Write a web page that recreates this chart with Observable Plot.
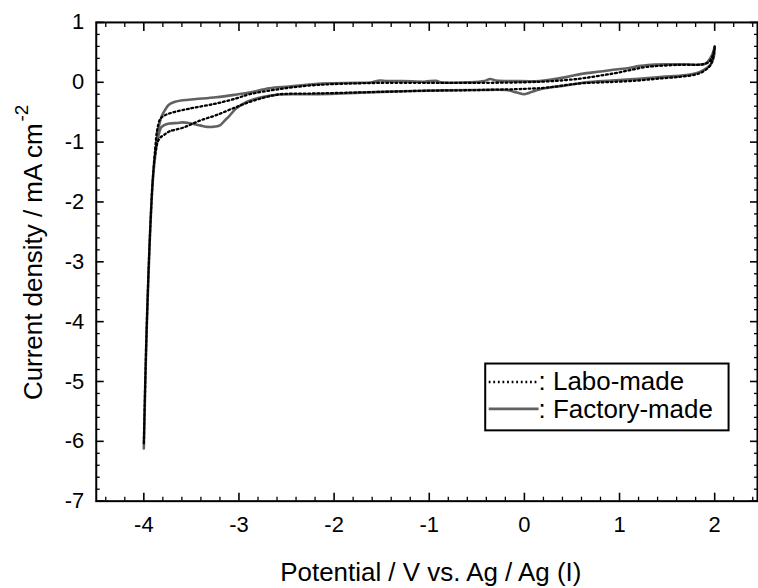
<!DOCTYPE html>
<html>
<head>
<meta charset="utf-8">
<script src="https://cdn.jsdelivr.net/npm/d3@7"></script>
<script src="https://cdn.jsdelivr.net/npm/@observablehq/plot@0.6"></script>
<style>
html, body { margin: 0; padding: 0; background: #fff; overflow: hidden; }
#chart { position: relative; width: 758px; height: 588px; overflow: hidden; }
</style>
</head>
<body>
<div id="chart"></div>
<script>
// ---- data ----
const seriesNames = ["Labo-made", "Factory-made"];

// Labo-made (dotted, black): sweep from +2 V down to -4 V, then back to +2 V
const laboV = [2.0, 1.98, 1.94, 1.87, 1.6, 1.28, 1.1, 0.93, 0.75, 0.58, 0.3, 0.0, -0.5, -1.0, -1.5, -2.0, -2.3, -2.6, -2.89, -3.03, -3.24, -3.52, -3.73, -3.8, -3.83, -3.86, -3.88, -3.905, -3.94, -3.975, -4.0,
  -3.975, -3.94, -3.905, -3.88, -3.84, -3.78, -3.73, -3.59, -3.41, -3.24, -3.07, -2.89, -2.71, -2.57, -2.3, -2.0, -1.5, -1.0, -0.5, 0.0, 0.23, 0.58, 0.92, 1.2, 1.4, 1.63, 1.8, 1.87, 1.93, 1.96, 1.99, 2.0];
const laboJ = [0.6, 0.45, 0.34, 0.3, 0.29, 0.255, 0.2, 0.145, 0.1, 0.06, 0.02, 0.0, -0.01, -0.01, -0.01, -0.03, -0.06, -0.12, -0.2, -0.27, -0.355, -0.44, -0.52, -0.57, -0.62, -0.8, -1.1, -1.6, -2.72, -4.38, -6.05,
  -4.4, -2.72, -1.6, -1.2, -0.95, -0.87, -0.82, -0.76, -0.64, -0.55, -0.44, -0.33, -0.245, -0.2, -0.19, -0.18, -0.16, -0.14, -0.13, -0.11, -0.09, -0.02, 0.005, 0.03, 0.06, 0.09, 0.13, 0.17, 0.24, 0.3, 0.45, 0.6];

// Factory-made (solid, grey)
const factoryV = [2.0, 1.97, 1.9, 1.7, 1.5, 1.3, 1.2, 1.1, 0.93, 0.8, 0.6, 0.45, 0.3, 0.16, -0.1, -0.3, -0.36, -0.42, -0.6, -0.88, -0.93, -1.05, -1.28, -1.45, -1.52, -1.6, -1.75, -2.12, -2.47, -2.68, -2.89, -3.05, -3.24, -3.45, -3.59, -3.68, -3.74, -3.78, -3.81, -3.84, -3.87, -3.905, -3.94, -3.975, -4.0,
  -3.975, -3.94, -3.905, -3.87, -3.845, -3.82, -3.79, -3.73, -3.65, -3.59, -3.5, -3.41, -3.33, -3.275, -3.2, -3.15, -3.1, -3.03, -2.92, -2.75, -2.57, -2.3, -1.98, -1.5, -1.0, -0.5, -0.19, -0.08, 0.0, 0.08, 0.16, 0.3, 0.45, 0.65, 0.92, 1.2, 1.45, 1.7, 1.84, 1.92, 1.96, 1.99, 2.0];
const factoryJ = [0.59, 0.45, 0.31, 0.3, 0.3, 0.29, 0.27, 0.24, 0.21, 0.18, 0.14, 0.09, 0.05, 0.02, 0.02, 0.03, 0.055, 0.02, 0.0, 0.0, 0.025, 0.01, 0.02, 0.02, 0.03, 0.0, -0.01, -0.02, -0.07, -0.1, -0.17, -0.21, -0.25, -0.28, -0.3, -0.33, -0.38, -0.47, -0.56, -0.72, -1.08, -1.63, -2.74, -4.41, -6.12,
  -4.41, -2.74, -1.63, -1.08, -0.88, -0.76, -0.72, -0.69, -0.68, -0.67, -0.69, -0.72, -0.745, -0.745, -0.72, -0.64, -0.56, -0.44, -0.33, -0.245, -0.205, -0.2, -0.19, -0.16, -0.14, -0.13, -0.13, -0.17, -0.2, -0.16, -0.12, -0.08, -0.05, 0.0, 0.03, 0.06, 0.09, 0.12, 0.17, 0.24, 0.3, 0.42, 0.59];

// ticks and labels
const xMajorTicks = [-4, -3, -2, -1, 0, 1, 2];
const yMajorTicks = [-7, -6, -5, -4, -3, -2, -1, 0, 1];
const xMinorTicks = d3.range(-22, 13).map(i => i / 5).filter(v => !Number.isInteger(v));
const yMinorTicks = d3.range(-35, 6).map(i => i / 5).filter(v => !Number.isInteger(v));
const xTitle = "Potential / V vs. Ag / Ag (I)";
const yTitle = "Current density / mA cm";
const yTitleSup = "-2";

// tables built from the arrays
const labo = laboV.map((v, i) => ({v, j: laboJ[i]}));
const factory = factoryV.map((v, i) => ({v, j: factoryJ[i]}));

const FONT = "'Liberation Sans', Arial, Helvetica, sans-serif";
const blank = () => "";
const DOTS = "1.8,2.8";

const svg = Plot.plot({
  width: 760,
  height: 588,
  marginLeft: 96,
  marginRight: 1,
  marginTop: 22,
  marginBottom: 86,
  style: {fontFamily: FONT, fontSize: "22px", color: "#000", background: "#fff"},
  x: {domain: [-4.5, 2.45]},
  y: {domain: [-7, 1]},
  marks: [
    Plot.line(factory, {x: "v", y: "j", stroke: "#616161", strokeWidth: 2.6, curve: "catmull-rom"}),
    Plot.line(labo, {x: "v", y: "j", stroke: "#000", strokeWidth: 2.3, strokeDasharray: DOTS, curve: "catmull-rom"}),
    // minor ticks (inward)
    Plot.axisX(xMinorTicks, {anchor: "bottom", label: null, tickSize: -4, tickFormat: blank, strokeWidth: 1.3}),
    Plot.axisX(xMinorTicks, {anchor: "top", label: null, tickSize: -4, tickFormat: blank, strokeWidth: 1.3}),
    Plot.axisY(yMinorTicks, {anchor: "left", label: null, tickSize: -4, tickFormat: blank, strokeWidth: 1.3}),
    Plot.axisY(yMinorTicks, {anchor: "right", label: null, tickSize: -4, tickFormat: blank, strokeWidth: 1.3}),
    // major ticks (inward) with labels on bottom and left
    Plot.axisX(xMajorTicks, {anchor: "bottom", label: null, tickSize: -8, tickPadding: 23, tickFormat: d => String(d), strokeWidth: 1.6, fontSize: 22}),
    Plot.axisX(xMajorTicks, {anchor: "top", label: null, tickSize: -8, tickFormat: blank, strokeWidth: 1.6}),
    Plot.axisY(yMajorTicks, {anchor: "left", label: null, tickSize: -8, tickPadding: 20, tickFormat: d => String(d), strokeWidth: 1.6, fontSize: 22}),
    Plot.axisY(yMajorTicks, {anchor: "right", label: null, tickSize: -8, tickFormat: blank, strokeWidth: 1.6}),
    Plot.frame({stroke: "#000", strokeWidth: 2})
  ]
});

document.getElementById("chart").appendChild(svg);

const s = d3.select(svg);

// x-axis title
s.append("text")
  .attr("x", 432).attr("y", 583)
  .attr("text-anchor", "middle")
  .attr("font-family", FONT).attr("font-size", 26).attr("fill", "#000")
  .text(xTitle);

// y-axis title with superscript
const yt = s.append("text")
  .attr("transform", "translate(42,253) rotate(-90)")
  .attr("text-anchor", "middle")
  .attr("font-family", FONT).attr("font-size", 26).attr("fill", "#000");
yt.append("tspan").text(yTitle);
yt.append("tspan").attr("dx", 2).attr("dy", -14).attr("font-size", 19).text(yTitleSup);

// legend
const lg = s.append("g");
lg.append("rect").attr("x", 486.5).attr("y", 364.5).attr("width", 244).attr("height", 67)
  .attr("fill", "#fff").attr("stroke", "#000").attr("stroke-width", 2);
lg.append("line").attr("x1", 490).attr("x2", 538).attr("y1", 383).attr("y2", 383)
  .attr("stroke", "#000").attr("stroke-width", 2.3).attr("stroke-dasharray", DOTS);
lg.append("line").attr("x1", 490).attr("x2", 540).attr("y1", 410).attr("y2", 410)
  .attr("stroke", "#616161").attr("stroke-width", 2.6);
lg.append("text").attr("x", 540).attr("y", 391).attr("text-anchor", "start")
  .attr("font-family", FONT).attr("font-size", 26).attr("fill", "#000")
  .text(": " + seriesNames[0]);
lg.append("text").attr("x", 540).attr("y", 419).attr("text-anchor", "start")
  .attr("font-family", FONT).attr("font-size", 26).attr("fill", "#000")
  .text(": " + seriesNames[1]);
</script>
</body>
</html>
